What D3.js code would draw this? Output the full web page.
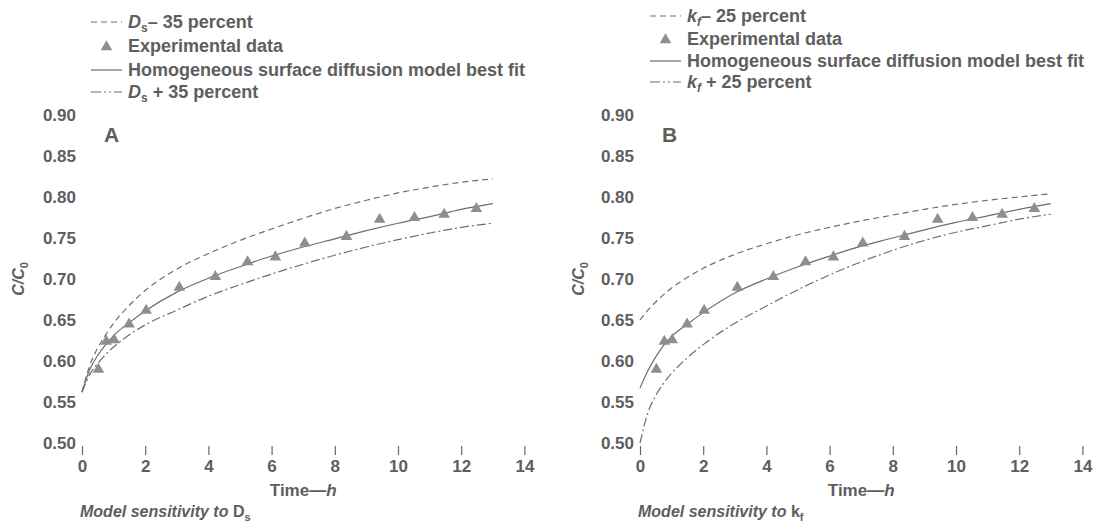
<!DOCTYPE html>
<html>
<head>
<meta charset="utf-8">
<script src="https://cdn.jsdelivr.net/npm/d3@7"></script>
<style>
  html, body { margin: 0; padding: 0; background: #fff; }
  svg { display: block; font-family: "Liberation Sans", Arial, sans-serif; }
  .tick text { font-size: 17px; font-weight: bold; fill: #5e5e5e; }
  .tick line { stroke: #666; stroke-width: 1.2; }
  .lbl { font-size: 17px; font-weight: bold; fill: #5e5e5e; }
  .leg { font-size: 18px; font-weight: bold; fill: #5e5e5e; }
</style>
</head>
<body>
<svg id="chart" width="1099" height="526"></svg>
<script>
// Time grid (h) on which the model curves are tabulated
const timeGrid = [0, 0.25, 0.5, 0.75, 1, 1.5, 2, 3, 4, 5, 6, 7, 8, 9, 10, 11, 12, 13];

// Panel A: sensitivity to surface diffusivity D_s
const dsMinus35 = [0.562, 0.595, 0.616, 0.632, 0.646, 0.668, 0.686, 0.712, 0.731, 0.747, 0.761, 0.774, 0.786, 0.796, 0.805, 0.812, 0.818, 0.822];
const dsFit     = [0.562, 0.590, 0.607, 0.620, 0.631, 0.647, 0.661, 0.684, 0.701, 0.715, 0.728, 0.739, 0.749, 0.759, 0.768, 0.776, 0.785, 0.792];
const dsPlus35  = [0.562, 0.584, 0.597, 0.608, 0.617, 0.632, 0.644, 0.662, 0.679, 0.693, 0.706, 0.718, 0.729, 0.739, 0.748, 0.756, 0.763, 0.768];

// Panel B: sensitivity to film transfer coefficient k_f
const kfMinus25 = [0.650, 0.662, 0.672, 0.681, 0.689, 0.702, 0.713, 0.730, 0.743, 0.754, 0.763, 0.771, 0.778, 0.785, 0.791, 0.796, 0.800, 0.804];
const kfFit     = [0.567, 0.588, 0.605, 0.619, 0.630, 0.645, 0.659, 0.683, 0.700, 0.715, 0.728, 0.740, 0.750, 0.760, 0.769, 0.777, 0.785, 0.792];
const kfPlus25  = [0.500, 0.537, 0.558, 0.573, 0.585, 0.604, 0.620, 0.646, 0.667, 0.687, 0.705, 0.721, 0.735, 0.747, 0.757, 0.765, 0.773, 0.779];

// Experimental breakthrough data
const expTime = [0.52, 0.77, 1.02, 1.49, 2.03, 3.08, 4.22, 5.24, 6.12, 7.05, 8.37, 9.42, 10.52, 11.46, 12.48];
const expConc = [0.591, 0.625, 0.627, 0.646, 0.663, 0.691, 0.704, 0.722, 0.728, 0.745, 0.753, 0.774, 0.776, 0.780, 0.787];

// Axis ticks
const xTicks = [0, 2, 4, 6, 8, 10, 12, 14];
const yTicks = [0.50, 0.55, 0.60, 0.65, 0.70, 0.75, 0.80, 0.85, 0.90];

const textColor = "#5e5e5e";
const lineColor = "#6e6e6e";
const markerColor = "#8e8e8e";
const dashed = "6,4";
const dashDot = "9,3,2,3";

const panels = [
  {
    letter: "A", x0: 82, legendX: 91, legendY: [28, 52, 76, 98],
    param: "D", sub: "s", italicSub: false, pct: "35",
    minus: dsMinus35, fit: dsFit, plus: dsPlus35,
    captionSym: "D", captionSub: "s", titleX: 24
  },
  {
    letter: "B", x0: 640, legendX: 650, legendY: [22, 45, 67, 88],
    param: "k", sub: "f", italicSub: true, pct: "25",
    minus: kfMinus25, fit: kfFit, plus: kfPlus25,
    captionSym: "k", captionSub: "f", titleX: 584
  }
];

const svg = d3.select("#chart");
const yTop = 115, yBottom = 443, pxPerHour = 31.6;

panels.forEach(p => {
  const g = svg.append("g");
  const x = d3.scaleLinear().domain([0, 14]).range([p.x0, p.x0 + 14 * pxPerHour]);
  const y = d3.scaleLinear().domain([0.5, 0.9]).range([yBottom, yTop]);

  // x axis: tick marks only, no baseline
  const xa = g.append("g").attr("transform", "translate(0,446)")
    .call(d3.axisBottom(x).tickValues(xTicks).tickSize(9).tickPadding(5).tickFormat(d3.format("d")));
  xa.select(".domain").remove();

  // y axis: labels only
  const ya = g.append("g").attr("transform", `translate(${p.x0 - 2},0)`)
    .call(d3.axisLeft(y).tickValues(yTicks).tickSize(0).tickPadding(4).tickFormat(d3.format(".2f")));
  ya.select(".domain").remove();

  // model curves
  const line = d3.line()
    .x((d, i) => x(timeGrid[i]))
    .y(d => y(d))
    .curve(d3.curveMonotoneX);

  [[p.minus, dashed], [p.fit, null], [p.plus, dashDot]].forEach(([vals, dash]) => {
    g.append("path")
      .datum(vals)
      .attr("d", line)
      .attr("fill", "none")
      .attr("stroke", lineColor)
      .attr("stroke-width", 1.2)
      .attr("stroke-dasharray", dash);
  });

  // experimental points
  const tri = d3.symbol().type(d3.symbolTriangle).size(58);
  g.selectAll("path.pt")
    .data(expTime.map((t, i) => [t, expConc[i]]))
    .join("path")
    .attr("class", "pt")
    .attr("d", tri)
    .attr("transform", d => `translate(${x(d[0])},${y(d[1]) + 1})`)
    .attr("fill", markerColor);

  // panel letter
  g.append("text").attr("x", x(0.7)).attr("y", 142)
    .attr("font-size", 21).attr("font-weight", "bold").attr("fill", textColor)
    .text(p.letter);

  // y title C/C0
  const yt = g.append("text")
    .attr("transform", `translate(${p.titleX},${y(0.7)}) rotate(-90)`)
    .attr("text-anchor", "middle")
    .attr("font-size", 16).attr("font-weight", "bold").attr("fill", textColor);
  yt.append("tspan").attr("font-style", "italic").text("C/C");
  yt.append("tspan").attr("font-size", 11).attr("dy", 4).text("0");

  // x title
  const xt = g.append("text").attr("class", "lbl")
    .attr("x", x(7)).attr("y", 496).attr("text-anchor", "middle");
  xt.append("tspan").text("Time\u2014");
  xt.append("tspan").attr("font-style", "italic").text("h");

  // caption
  const cap = g.append("text")
    .attr("x", p.x0 - 2).attr("y", 517)
    .attr("font-size", 16).attr("font-weight", "bold").attr("fill", textColor);
  cap.append("tspan").attr("font-style", "italic").text("Model sensitivity to ");
  cap.append("tspan").text(p.captionSym);
  cap.append("tspan").attr("font-size", 11).attr("dy", 4).text(p.captionSub);

  // legend
  const lx = p.legendX, lw = 31, tx = lx + 37;
  const rows = [
    { kind: "dash", dash: dashed },
    { kind: "tri" },
    { kind: "line" },
    { kind: "dash", dash: "10,3,2,3,2,3" }
  ];
  rows.forEach((r, i) => {
    const cy = p.legendY[i] - 6;
    if (r.kind === "tri") {
      g.append("path").attr("d", tri).attr("fill", markerColor)
        .attr("transform", `translate(${lx + lw / 2},${cy + 1})`);
    } else {
      g.append("line").attr("x1", lx).attr("x2", lx + lw).attr("y1", cy).attr("y2", cy)
        .attr("stroke", lineColor).attr("stroke-width", 1.2)
        .attr("stroke-dasharray", r.dash || null);
    }
  });

  const paramText = (row, sign) => {
    const t = g.append("text").attr("class", "leg").attr("x", tx).attr("y", p.legendY[row]);
    t.append("tspan").attr("font-style", "italic").text(p.param);
    t.append("tspan").attr("font-size", 12).attr("dy", 4)
      .attr("font-style", p.italicSub ? "italic" : null).text(p.sub);
    t.append("tspan").attr("dy", -4).text(sign + " " + p.pct + " percent");
  };
  paramText(0, "\u2013");
  g.append("text").attr("class", "leg").attr("x", tx).attr("y", p.legendY[1]).text("Experimental data");
  g.append("text").attr("class", "leg").attr("x", tx).attr("y", p.legendY[2]).text("Homogeneous surface diffusion model best fit");
  paramText(3, " +");
});
</script>
</body>
</html>
